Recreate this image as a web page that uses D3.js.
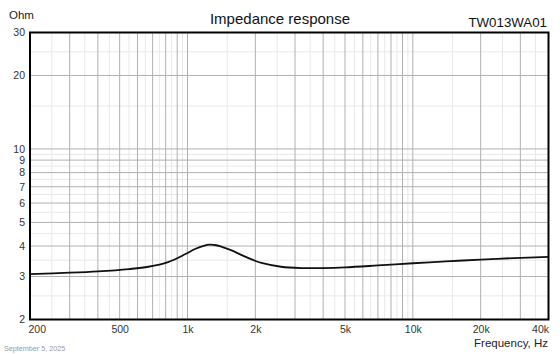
<!DOCTYPE html>
<html>
<head>
<meta charset="utf-8">
<script src="https://cdn.jsdelivr.net/npm/d3@7"></script>
<style>
  html, body { margin: 0; padding: 0; background: #fff; }
  svg { display: block; font-family: "Liberation Sans", Arial, sans-serif; }
</style>
</head>
<body>
<svg id="chart" width="560" height="354"></svg>
<script>
// Data
const frequency = [200, 300, 400, 550, 670, 820, 975, 1080, 1180, 1260, 1340, 1420, 1600, 1740, 1950, 2130, 2600, 3200, 4000, 5000, 7000, 10000, 14000, 20000, 28000, 40000];
const impedance = [3.07, 3.11, 3.15, 3.22, 3.29, 3.44, 3.70, 3.89, 4.01, 4.05, 4.03, 3.97, 3.81, 3.67, 3.51, 3.41, 3.29, 3.25, 3.25, 3.27, 3.33, 3.40, 3.46, 3.52, 3.57, 3.61];
const xTickValues = [200, 500, 1000, 2000, 5000, 10000, 20000, 40000];
const xTickLabels = ["200", "500", "1k", "2k", "5k", "10k", "20k", "40k"];
const yTickValues = [2, 3, 4, 5, 6, 7, 8, 9, 10, 20, 30];
const yTickLabels = ["2", "3", "4", "5", "6", "7", "8", "9", "10", "20", "30"];
const titleText = "Impedance response";
const modelText = "TW013WA01";
const yUnitText = "Ohm";
const xUnitText = "Frequency, Hz";
const dateText = "September 5, 2025";

(function () {
const svg = d3.select("#chart");
const pL = 30, pR = 548.5, pT = 32.5, pB = 319.5;

const x = d3.scaleLog().domain([200, 40000]).range([pL, pR]);
const y = d3.scaleLog().domain([2, 30]).range([pB, pT]);

// grid values
const xMajor = [], xMinor = [];
[100, 1000, 10000].forEach(d => {
  for (let k = 1; k <= 9; k++) {
    const v = k * d;
    if (v > 200 && v < 40000) xMajor.push(v);
    const m = (k + 0.5) * d;
    if (m > 200 && m < 40000) xMinor.push(m);
  }
});
const yMajor = [], yMinor = [];
[1, 10].forEach(d => {
  for (let k = 1; k <= 9; k++) {
    const v = k * d;
    if (v > 2 && v < 30) yMajor.push(v);
    const m = (k + 0.5) * d;
    if (m > 2 && m < 30) yMinor.push(m);
  }
});

const grid = svg.append("g");
grid.selectAll(".xmin").data(xMinor).join("line")
  .attr("x1", d => x(d)).attr("x2", d => x(d)).attr("y1", pT).attr("y2", pB)
  .attr("stroke", "#e8e8e8").attr("stroke-width", 1);
grid.selectAll(".ymin").data(yMinor).join("line")
  .attr("y1", d => y(d)).attr("y2", d => y(d)).attr("x1", pL).attr("x2", pR)
  .attr("stroke", "#e8e8e8").attr("stroke-width", 1);
grid.selectAll(".xmaj").data(xMajor).join("line")
  .attr("x1", d => x(d)).attr("x2", d => x(d)).attr("y1", pT).attr("y2", pB)
  .attr("stroke", "#b0b0b0").attr("stroke-width", 1);
grid.selectAll(".ymaj").data(yMajor).join("line")
  .attr("y1", d => y(d)).attr("y2", d => y(d)).attr("x1", pL).attr("x2", pR)
  .attr("stroke", "#b0b0b0").attr("stroke-width", 1);

// curve
const pts = frequency.map((f, i) => [f, impedance[i]]);
const line = d3.line().x(d => x(d[0])).y(d => y(d[1])).curve(d3.curveCatmullRom.alpha(0.5));
svg.append("path").datum(pts).attr("d", line)
  .attr("fill", "none").attr("stroke", "#111").attr("stroke-width", 1.8);

// frame
svg.append("rect").attr("x", pL).attr("y", pT)
  .attr("width", pR - pL).attr("height", pB - pT)
  .attr("fill", "none").attr("stroke", "#000").attr("stroke-width", 2);

// x axis labels
const xAxis = d3.axisBottom(x).tickValues(xTickValues)
  .tickFormat((d, i) => xTickLabels[i]).tickSize(0).tickPadding(0);
const gx = svg.append("g").attr("transform", `translate(0,${pB})`).call(xAxis);
gx.select(".domain").remove();
gx.selectAll("text")
  .attr("y", 13).attr("dy", null)
  .attr("font-size", 10.5).attr("fill", "#333")
  .attr("font-family", "Liberation Sans, Arial, sans-serif")
  .attr("text-anchor", (d, i) => i === 0 ? "start" : (i === xTickValues.length - 1 ? "end" : "middle"))
  .attr("dx", (d, i) => i === 0 ? -2 : 0);

// y axis labels
const yAxis = d3.axisLeft(y).tickValues(yTickValues)
  .tickFormat((d, i) => yTickLabels[i]).tickSize(0).tickPadding(0);
const gy = svg.append("g").attr("transform", `translate(${pL - 5},0)`).call(yAxis);
gy.select(".domain").remove();
gy.selectAll("text")
  .attr("font-size", 10.5).attr("fill", "#333")
  .attr("font-family", "Liberation Sans, Arial, sans-serif");

// texts
svg.append("text").attr("x", 9).attr("y", 18.5).text(yUnitText)
  .attr("font-size", 11.5).attr("fill", "#222");
svg.append("text").attr("x", 280).attr("y", 23.5).attr("text-anchor", "middle")
  .text(titleText).attr("font-size", 15).attr("fill", "#111");
svg.append("text").attr("x", 547).attr("y", 26.5).attr("text-anchor", "end")
  .text(modelText).attr("font-size", 13.3).attr("fill", "#111");
svg.append("text").attr("x", 548).attr("y", 346.5).attr("text-anchor", "end")
  .text(xUnitText).attr("font-size", 11.5).attr("fill", "#222");
svg.append("text").attr("x", 4).attr("y", 350.5)
  .text(dateText).attr("font-size", 7.2).attr("fill", "#999");
})();
</script>
</body>
</html>
